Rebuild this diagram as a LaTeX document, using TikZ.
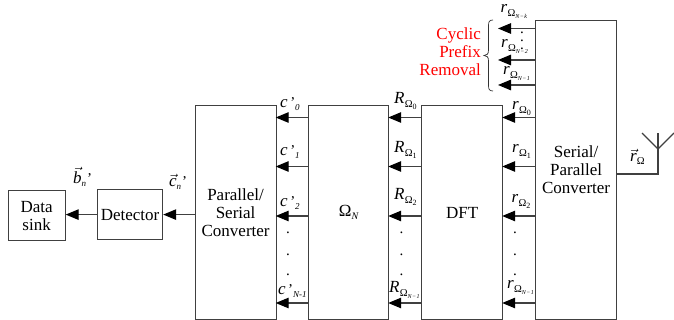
\documentclass[tikz,border=0pt]{standalone}
\usepackage{fontspec}
\setmainfont{Liberation Serif}
\usetikzlibrary{arrows.meta}
\newcommand{\fs}[1]{\fontsize{#1}{#1}\selectfont}
\newcommand{\subom}[2]{\raisebox{-4pt}{\fs{10.5}Ω}\raisebox{-6pt}{\fs{#2}#1}}
\newcommand{\rl}[3]{{\fs{17}\itshape #1}\kern.3pt\subom{#2}{#3}}
\newcommand{\cl}[1]{{\fs{17}\itshape c}{\fs{15}\,'}\raisebox{-3pt}{\fs{9}\itshape #1}}
\tikzset{
  x=1pt,y=-1pt,
  box/.style={draw=black!75,line width=1.2pt,anchor=north west,inner sep=0pt,align=center,font=\fs{17}},
  arr/.style={draw=black!75,line width=1.2pt,-{Triangle[length=13pt,width=10.5pt,color=black]},shorten >=0pt},
  wire/.style={draw=black!75,line width=1.2pt},
  lab/.style={anchor=base west,inner sep=0pt,font=\fs{17}},
  vdot/.style={anchor=base,inner sep=0pt,font=\fs{15}}
}
\begin{document}
\begin{tikzpicture}
\useasboundingbox (0,0) rectangle (674,320);
% blocks
\node[box,minimum width=57pt,minimum height=50pt] (sink) at (7.5,190) {Data\\[1pt]sink};
\node[box,minimum width=65pt,minimum height=50pt] (det) at (97,189) {Detector};
\node[box,minimum width=81pt,minimum height=214pt] (ps) at (194.5,105) {Parallel/\\[1pt]Serial\\[1pt]Converter};
\node[box,minimum width=80pt,minimum height=214pt] (om) at (308,105) {Ω\raisebox{-3pt}{\fs{10}\itshape N}};
\node[box,minimum width=81pt,minimum height=214pt] (dft) at (421,105) {DFT};
\node[box,minimum width=81pt,minimum height=299pt] (sp) at (535,20) {Serial/\\[1pt]Parallel\\[1pt]Converter};
% row levels
\coordinate (rowa) at (0,28.5);
\coordinate (rowb) at (0,60);
\coordinate (rowc) at (0,85);
\coordinate (row0) at (0,117.5);
\coordinate (row1) at (0,166.5);
\coordinate (row2) at (0,216);
\coordinate (row3) at (0,303);
\coordinate (enda) at (498,28.5);
\coordinate (endb) at (498,60);
\coordinate (endc) at (498,85);
% cyclic prefix outputs
\draw[arr] (sp.west |- rowa) -- (enda);
\draw[arr] (sp.west |- rowb) -- (endb);
\draw[arr] (sp.west |- rowc) -- (endc);
% parallel connections
\foreach \r in {row0,row1,row2,row3}{
  \draw[arr] (sp.west |- \r) -- ([xshift=-1pt]dft.east |- \r);
  \draw[arr] (dft.west |- \r) -- ([xshift=-1pt]om.east |- \r);
  \draw[arr] (om.west |- \r) -- ([xshift=-1pt]ps.east |- \r);
}
\draw[arr] (ps.west |- det.east) -- (det.east);
\draw[arr] (det.west) -- (sink.east |- det.west);
% antenna
\coordinate (ant) at (658,149);
\coordinate (antl) at (642,133);
\coordinate (antm) at (658,133);
\coordinate (antr) at (674,133);
\coordinate (antb) at (658,174);
\draw[wire] (sp.east |- antb) -- (antb) -- (ant);
\draw[wire] (antl) -- (ant) -- (antr);
\draw[wire] (ant) -- (antm);
% brace
\coordinate (bta) at (493,20);
\coordinate (btb) at (493,91);
\draw[black!80,line width=.7pt] (bta) .. controls (489,20) and (488.5,22) .. (488.5,26) -- (488.5,50) .. controls (488.5,54) and (487,55.5) .. (484,55.5) .. controls (487,55.5) and (488.5,57) .. (488.5,61) -- (488.5,85) .. controls (488.5,89) and (489,91) .. (btb);
% red text
\node[anchor=east,inner sep=0pt,align=right,text=red,font=\fs{17}] (cp) at (481,52) {Cyclic\\[1pt]Prefix\\[1pt]Removal};
% labels right
\node[lab] (l1) at (500.5,13) {\rl{r}{\itshape N\kern.4pt−\kern.4pt k}{6}};
\node[lab] (l2) at (501,48) {\rl{r}{\itshape N\kern.4pt−\kern.4pt 2}{6}};
\node[lab] (l3) at (503,75) {\rl{r}{\itshape N\kern.4pt−\kern.4pt 1}{6}};
\node[lab] (l4) at (512,110) {\rl{r}{0}{8}};
\node[lab] (l5) at (512,153) {\rl{r}{1}{8}};
\node[lab] (l6) at (511.5,203) {\rl{r}{2}{8}};
\node[lab] (l7) at (507,288) {\rl{r}{\itshape N\kern.4pt−\kern.4pt 1}{6}};
% labels R
\node[lab] (l8) at (394,104) {\rl{R}{0}{8}};
\node[lab] (l9) at (394,153) {\rl{R}{1}{8}};
\node[lab] (l10) at (394,200) {\rl{R}{2}{8}};
\node[lab] (l11) at (389,292) {\rl{R}{\itshape N\kern.4pt−\kern.4pt 1}{6}};
% labels c
\node[lab] (l12) at (280,108) {\cl{0}};
\node[lab] (l13) at (280,156) {\cl{1}};
\node[lab] (l14) at (280,207) {\cl{2}};
\node[lab] (l15) at (278,294) {\cl{N-1}};
% vector labels
\node[lab] (l16) at (73,184) {$\vec{\hbox{\fs{17}\itshape b}}$\raisebox{-3pt}{\fs{9}\itshape n}\kern1pt{\fs{15}'}};
\node[lab] (l17) at (169,187) {$\vec{\hbox{\fs{17}\itshape c}}$\raisebox{-3pt}{\fs{9}\itshape n}\kern1pt{\fs{15}'}};
\node[lab] (l18) at (630,162) {$\vec{\hbox{\fs{17}\itshape r}}$\raisebox{-3pt}{\fs{10.5}Ω}};
% dots
\foreach \x/\y [count=\i] in {522/34,522/42,522/50,515/234,515/255,515/276,401.5/234,401.5/255,401.5/276,288/234,288/255,288/276}{
  \node[vdot] (d\i) at (\x,\y) {.};
}
\end{tikzpicture}
\end{document}
